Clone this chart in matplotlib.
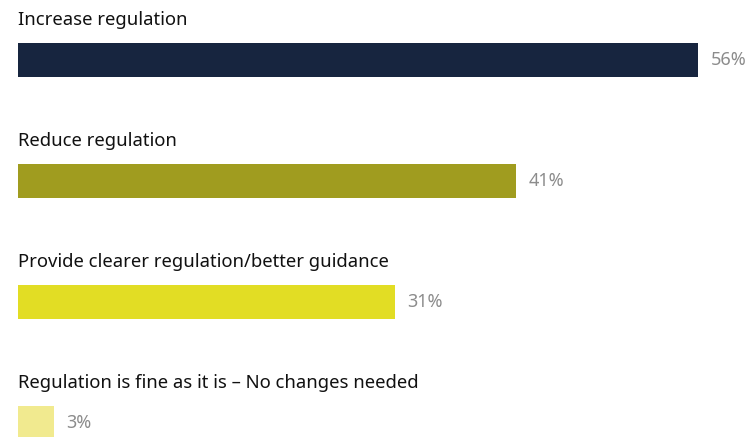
import matplotlib.pyplot as plt

plt.rcParams['font.family'] = ['Noto Sans', 'DejaVu Sans']

categories = [
    "Increase regulation",
    "Reduce regulation",
    "Provide clearer regulation/better guidance",
    "Regulation is fine as it is \u2013 No changes needed",
]
values = [56, 41, 31, 3]
colors = ["#17253f", "#a09c1f", "#e2dd24", "#f1ea8f"]

fig = plt.figure(figsize=(7.46, 4.37), dpi=100)
ax = fig.add_axes([18 / 746, 0, 1 - 18 / 746, 1])
ax.set_xlim(0, 728 / 12.15)
ax.set_ylim(437, 0)
ax.axis("off")

# rows in pixel units (y axis runs 0..437 top-down)
for i, (cat, val, col) in enumerate(zip(categories, values, colors)):
    yc = 60 + 121 * i
    ax.barh(yc, val, height=34, color=col, left=0)
    ax.text(0, yc - 40, cat, va="center", ha="left", fontsize=13.3, color="#111111")
    ax.text(val + 1.0, yc, f"{val}%", va="center", ha="left", fontsize=13, color="#8c8c8c")

fig.savefig("out.png", dpi=100)
